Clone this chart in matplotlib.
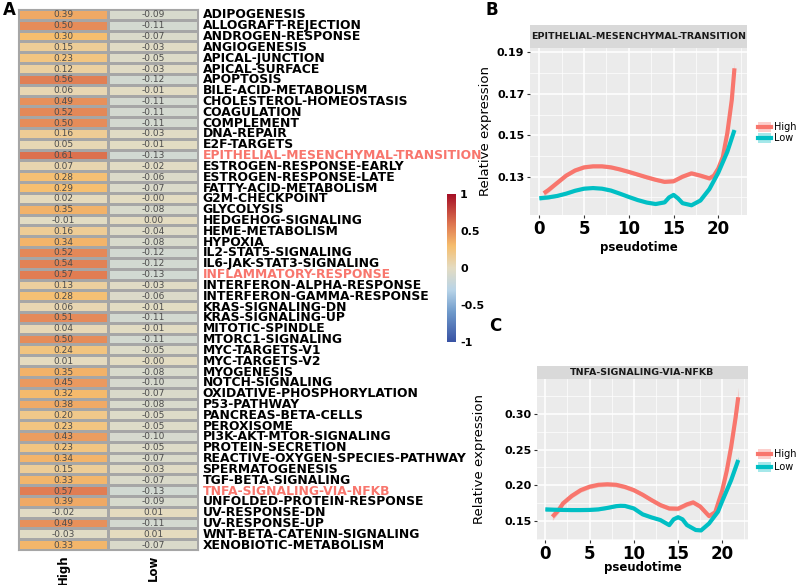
import numpy as np
import matplotlib
matplotlib.use('Agg')
import matplotlib.pyplot as plt
from matplotlib.colors import LinearSegmentedColormap

plt.rcParams['font.family'] = ['DejaVu Sans']

# ===================== data =====================
pathways = ["ADIPOGENESIS", "ALLOGRAFT-REJECTION", "ANDROGEN-RESPONSE", "ANGIOGENESIS",
            "APICAL-JUNCTION", "APICAL-SURFACE", "APOPTOSIS", "BILE-ACID-METABOLISM",
            "CHOLESTEROL-HOMEOSTASIS", "COAGULATION", "COMPLEMENT", "DNA-REPAIR", "E2F-TARGETS",
            "EPITHELIAL-MESENCHYMAL-TRANSITION", "ESTROGEN-RESPONSE-EARLY", "ESTROGEN-RESPONSE-LATE",
            "FATTY-ACID-METABOLISM", "G2M-CHECKPOINT", "GLYCOLYSIS", "HEDGEHOG-SIGNALING",
            "HEME-METABOLISM", "HYPOXIA", "IL2-STAT5-SIGNALING", "IL6-JAK-STAT3-SIGNALING",
            "INFLAMMATORY-RESPONSE", "INTERFERON-ALPHA-RESPONSE", "INTERFERON-GAMMA-RESPONSE",
            "KRAS-SIGNALING-DN", "KRAS-SIGNALING-UP", "MITOTIC-SPINDLE", "MTORC1-SIGNALING",
            "MYC-TARGETS-V1", "MYC-TARGETS-V2", "MYOGENESIS", "NOTCH-SIGNALING",
            "OXIDATIVE-PHOSPHORYLATION", "P53-PATHWAY", "PANCREAS-BETA-CELLS", "PEROXISOME",
            "PI3K-AKT-MTOR-SIGNALING", "PROTEIN-SECRETION", "REACTIVE-OXYGEN-SPECIES-PATHWAY",
            "SPERMATOGENESIS", "TGF-BETA-SIGNALING", "TNFA-SIGNALING-VIA-NFKB",
            "UNFOLDED-PROTEIN-RESPONSE", "UV-RESPONSE-DN", "UV-RESPONSE-UP",
            "WNT-BETA-CATENIN-SIGNALING", "XENOBIOTIC-METABOLISM"]
highlight = ["EPITHELIAL-MESENCHYMAL-TRANSITION", "INFLAMMATORY-RESPONSE", "TNFA-SIGNALING-VIA-NFKB"]

high_cor = [0.39, 0.50, 0.30, 0.15, 0.23, 0.12, 0.56, 0.06, 0.49, 0.52, 0.50, 0.16, 0.05,
            0.61, 0.07, 0.28, 0.29, 0.02, 0.35, -0.01, 0.16, 0.34, 0.52, 0.54, 0.57, 0.13, 0.28,
            0.06, 0.51, 0.04, 0.50, 0.24, 0.01, 0.35, 0.45, 0.32, 0.38, 0.20, 0.23,
            0.43, 0.23, 0.34, 0.15, 0.33, 0.57, 0.39, -0.02, 0.49, -0.03, 0.33]
low_cor = [-0.09, -0.11, -0.07, -0.03, -0.05, -0.03, -0.12, -0.01, -0.11, -0.11, -0.11, -0.03, -0.01,
           -0.13, -0.02, -0.06, -0.07, -0.003, -0.08, 0.00, -0.04, -0.08, -0.12, -0.12, -0.13, -0.03, -0.06,
           -0.01, -0.11, -0.01, -0.11, -0.05, -0.003, -0.08, -0.10, -0.07, -0.08, -0.05, -0.05,
           -0.10, -0.05, -0.07, -0.03, -0.07, -0.13, -0.09, 0.01, -0.11, 0.01, -0.07]
groups = ["High", "Low"]

# panel B: EMT
emt_high_t = [0.5, 1, 2, 3, 4, 5, 6, 7, 8, 9, 10, 11, 12, 13, 14, 15, 16, 17, 18, 19, 19.5, 20, 20.5, 21, 21.5, 21.8]
emt_high_y = [0.1220, 0.1235, 0.1270, 0.1305, 0.1330, 0.1345, 0.1350, 0.1350, 0.1345, 0.1335, 0.1323,
              0.1310, 0.1297, 0.1285, 0.1275, 0.1278, 0.1300, 0.1316, 0.1305, 0.1292, 0.1305, 0.1340,
              0.1395, 0.1510, 0.1670, 0.1823]
emt_high_se = [0.0015, 0.0012, 0.0009, 0.0008, 0.0008, 0.0008, 0.0008, 0.0008, 0.0008, 0.0008, 0.0008,
               0.0008, 0.0008, 0.0008, 0.0008, 0.0008, 0.0008, 0.0009, 0.0010, 0.0010, 0.0010, 0.0010,
               0.0012, 0.0016, 0.0022, 0.0030]
emt_low_t = [0, 1, 2, 3, 4, 5, 6, 7, 8, 9, 10, 11, 12, 13, 14, 14.5, 15, 15.5, 16, 17, 18, 19, 20, 21, 21.8]
emt_low_y = [0.1196, 0.1200, 0.1207, 0.1218, 0.1232, 0.1242, 0.1245, 0.1242, 0.1233, 0.1218, 0.1202,
             0.1187, 0.1175, 0.1168, 0.1176, 0.1200, 0.1212, 0.1195, 0.1172, 0.1162, 0.1185, 0.1240,
             0.1320, 0.1420, 0.1525]
emt_low_se = [0.0010, 0.0008, 0.0006, 0.0005, 0.0005, 0.0005, 0.0005, 0.0005, 0.0005, 0.0005, 0.0005,
              0.0005, 0.0005, 0.0005, 0.0005, 0.0005, 0.0005, 0.0005, 0.0005, 0.0005, 0.0005, 0.0005,
              0.0006, 0.0008, 0.0010]

# panel C: TNFA
tnf_high_t = [0.8, 1.5, 2, 3, 4, 5, 6, 7, 8, 9, 10, 11, 12, 13, 14, 15, 16, 16.7, 17.5, 18.5, 19.2, 20, 20.5, 21, 21.5, 21.8]
tnf_high_y = [0.1556, 0.1650, 0.1744, 0.1850, 0.1930, 0.1978, 0.2005, 0.2012, 0.2005, 0.1975, 0.1930,
              0.1865, 0.1790, 0.1720, 0.1673, 0.1670, 0.1730, 0.1758, 0.1700, 0.1566, 0.1620, 0.1930,
              0.2200, 0.2540, 0.2950, 0.3234]
tnf_high_se = [0.005, 0.004, 0.003, 0.003, 0.003, 0.003, 0.003, 0.003, 0.003, 0.003, 0.003,
               0.003, 0.003, 0.003, 0.003, 0.003, 0.003, 0.003, 0.003, 0.003, 0.003, 0.003,
               0.004, 0.006, 0.010, 0.014]
tnf_low_t = [0, 1, 2, 3, 4, 5, 6, 7, 8, 8.5, 9, 10, 11, 12, 13, 14, 14.5, 15, 15.5, 16, 17, 17.6, 18.5, 19.5, 20, 21, 21.8]
tnf_low_y = [0.1660, 0.1655, 0.1652, 0.1650, 0.1650, 0.1652, 0.1660, 0.1680, 0.1705, 0.1710, 0.1708,
             0.1673, 0.1590, 0.1547, 0.1510, 0.1439, 0.1520, 0.1550, 0.1520, 0.1440, 0.1370, 0.1365,
             0.1462, 0.1626, 0.1780, 0.2072, 0.2353]
tnf_low_se = [0.003, 0.002, 0.002, 0.002, 0.002, 0.002, 0.002, 0.002, 0.002, 0.002, 0.002,
              0.002, 0.002, 0.002, 0.002, 0.002, 0.002, 0.002, 0.002, 0.002, 0.002, 0.002,
              0.002, 0.002, 0.003, 0.004, 0.005]

# ===================== figure =====================
W, H = 798, 585
fig = plt.figure(figsize=(W / 100, H / 100), dpi=100)


def add_ax(l, t, r, b):
    return fig.add_axes([l / W, 1 - b / H, (r - l) / W, (b - t) / H])


# ---------- A: heatmap ----------
cmap = LinearSegmentedColormap.from_list('cor', [
    (0.0, '#3953A4'), (0.2, '#6F9ACB'), (0.35, '#B8D4E8'), (0.5, '#E4DCC2'),
    (0.65, '#F6BE6E'), (0.8, '#DE7550'), (1.0, '#A50F26')])

mat = np.column_stack([high_cor, low_cor])
n = len(pathways)
ax = add_ax(18, 9, 198, 550)
ax.pcolormesh(np.arange(3), np.arange(n + 1), mat, cmap=cmap, vmin=-1, vmax=1,
              edgecolors='#A6A6A6', linewidth=0.8)
ax.set_xlim(0, 2)
ax.set_ylim(n, 0)
for i in range(n):
    for j in range(2):
        ax.text(j + 0.5, i + 0.55, f"{mat[i, j]:.2f}", ha='center', va='center',
                fontsize=6.5, color='#4D4D4D')
    col = '#F8766D' if pathways[i] in highlight else 'black'
    ax.text(2.05, i + 0.55, pathways[i], ha='left', va='center', fontsize=8.9,
            fontweight='bold', color=col, clip_on=False)
for j, g in enumerate(groups):
    ax.text(j + 0.5, n + 0.45, g, rotation=90, ha='center', va='top', fontsize=8.5,
            fontweight='bold', clip_on=False)
ax.set_xticks([])
ax.set_yticks([])
for s in ax.spines.values():
    s.set_color('#A6A6A6')

fig.text(3 / W, 1 - 10 / H, 'A', fontsize=12, fontweight='bold', va='center')

# colorbar
cax = add_ax(447, 194, 456, 342)
grad = np.linspace(-1, 1, 256).reshape(-1, 1)
cax.imshow(grad, cmap=cmap, aspect='auto', origin='lower', extent=[0, 1, -1, 1])
cax.set_xticks([])
cax.yaxis.tick_right()
cax.set_yticks([-1, -0.5, 0, 0.5, 1])
cax.set_yticklabels(['-1', '-0.5', '0', '0.5', '1'], fontsize=8, fontweight='bold')
cax.tick_params(axis='y', length=0, pad=3)
for s in cax.spines.values():
    s.set_visible(False)


# ---------- B / C: pseudotime curves ----------
def trend_panel(box, strip_box, title, series, yticks, yminor, ylim, xlim, ylab_x, xlab_pad):
    a = add_ax(*box)
    a.set_facecolor('#EBEBEB')
    a.set_xlim(*xlim)
    a.set_ylim(*ylim)
    a.set_xticks([0, 5, 10, 15, 20])
    a.set_xticks([2.5, 7.5, 12.5, 17.5, 22.5], minor=True)
    a.set_yticks(yticks)
    a.set_yticks(yminor, minor=True)
    a.set_yticklabels([f"{v:.2f}" for v in yticks])
    a.grid(which='major', color='white', linewidth=1.1)
    a.grid(which='minor', color='white', linewidth=0.5)
    a.set_axisbelow(True)
    for s in a.spines.values():
        s.set_visible(False)
    a.tick_params(which='minor', length=0)
    a.tick_params(which='major', length=2.5, width=0.8, color='#333333')
    a.tick_params(axis='x', labelsize=12, pad=1)
    a.tick_params(axis='y', labelsize=8, pad=1.5)
    for lab in a.get_xticklabels() + a.get_yticklabels():
        lab.set_fontweight('bold')
    a.set_xlabel('pseudotime', fontsize=8.5, fontweight='bold', labelpad=xlab_pad)
    a.set_ylabel('Relative expression', fontsize=9.5)
    a.yaxis.set_label_coords(ylab_x, 0.5)
    for t, y, se, c in series:
        t = np.array(t); y = np.array(y); se = np.array(se)
        a.fill_between(t, y - se, y + se, color=c, alpha=0.35, linewidth=0)
        a.plot(t, y, color=c, linewidth=3, solid_capstyle='butt')
    sa = add_ax(*strip_box)
    sa.set_facecolor('#D9D9D9')
    sa.set_xticks([]); sa.set_yticks([])
    for s in sa.spines.values():
        s.set_visible(False)
    sa.text(0.5, 0.5, title, ha='center', va='center', fontsize=6.8, color='#1A1A1A',
            fontweight='bold', transform=sa.transAxes)
    return a


def legend_block(x, y, dy):
    for k, (lab, c) in enumerate([("High", '#F8766D'), ("Low", '#00BFC4')]):
        yy = y + k * dy
        fig.patches.append(plt.Rectangle((x / W, 1 - (yy + 5) / H), 13 / W, 10 / H,
                                         transform=fig.transFigure, color=c, alpha=0.35, lw=0))
        fig.lines.append(plt.Line2D([x / W, (x + 13) / W], [1 - yy / H, 1 - yy / H],
                                    transform=fig.transFigure, color=c, linewidth=3))
        fig.text((x + 16) / W, 1 - yy / H, lab, fontsize=7, va='center', ha='left')


trend_panel((530, 48, 747, 215), (530, 25, 747, 48), 'EPITHELIAL-MESENCHYMAL-TRANSITION',
            [(emt_high_t, emt_high_y, emt_high_se, '#F8766D'),
             (emt_low_t, emt_low_y, emt_low_se, '#00BFC4')],
            [0.13, 0.15, 0.17, 0.19], [0.12, 0.14, 0.16, 0.18], (0.1115, 0.1921), (-1.04, 23.2),
            -0.175, 2)
legend_block(758, 127, 11)

trend_panel((537, 379, 748, 540), (537, 366, 748, 379), 'TNFA-SIGNALING-VIA-NFKB',
            [(tnf_high_t, tnf_high_y, tnf_high_se, '#F8766D'),
             (tnf_low_t, tnf_low_y, tnf_low_se, '#00BFC4')],
            [0.15, 0.20, 0.25, 0.30], [0.125, 0.175, 0.225, 0.275, 0.325], (0.123, 0.349), (-0.94, 22.9),
            -0.244, -1)
legend_block(758, 454, 13)

fig.text(485 / W, 1 - 10 / H, 'B', fontsize=12, fontweight='bold', va='center')
fig.text(489 / W, 1 - 326 / H, 'C', fontsize=12, fontweight='bold', va='center')

fig.savefig('out.png', dpi=100)
